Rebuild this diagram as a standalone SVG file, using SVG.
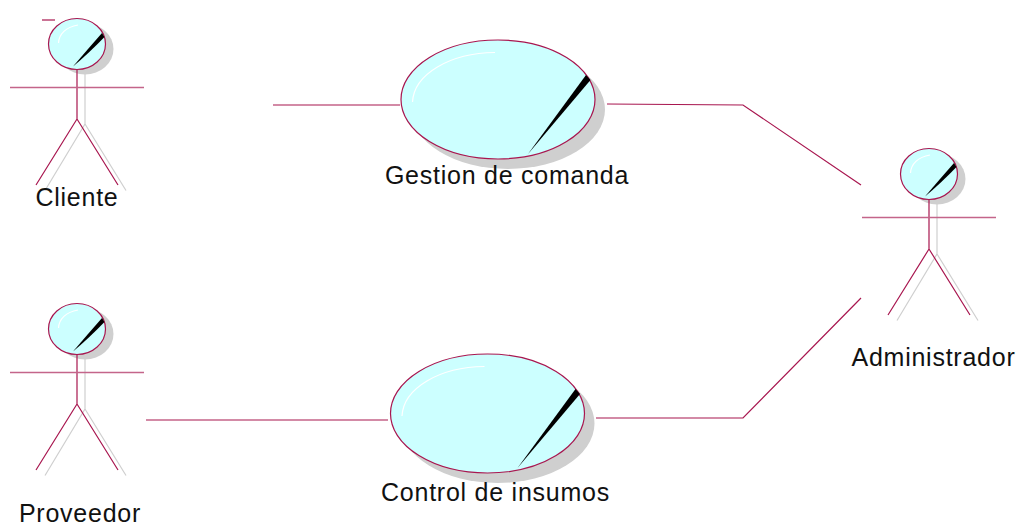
<svg xmlns="http://www.w3.org/2000/svg" width="1018" height="525" viewBox="0 0 1018 525">
<style>
.ln{fill:none;stroke:#a8164f;stroke-width:1.2}
.sh{fill:none;stroke:#cfcfcf;stroke-width:1.2}
.sf{fill:#cfcfcf}
.bd{fill:#ccffff;stroke:#a8164f;stroke-width:1.2}
.hl{fill:none;stroke:#fff;stroke-width:1.2}
.tx{font-family:"Liberation Sans",Arial,sans-serif;font-size:25px;letter-spacing:.75px;fill:#111;text-anchor:middle}
</style>
<defs>
<g id="actor">
<ellipse class="sf" cx="85" cy="49" rx="28.500" ry="25.500"/>
<path class="sh" d="M85 70V124M85 124L45 190.500M85 124L126 190.500"/>
<ellipse class="bd" cx="77" cy="44" rx="28.500" ry="25.500"/>
<path class="hl" d="M58.500 43C59 34 66 27 78 25"/>
<path d="M102 33L104.500 37Q88 54 73 66.500Q87 50 102 33Z" fill="#000"/>
<path class="ln" d="M77 69.500V119M77 119L36 185M77 119L118 185"/>
<path d="M10 87.500H144" fill="none" stroke="#c4658a" stroke-width="1.600"/>
</g>
<g id="usecase">
<ellipse class="sf" cx="508" cy="109.500" rx="97" ry="59.500"/>
<ellipse class="bd" cx="498" cy="99.500" rx="97" ry="59.500"/>
<path class="hl" d="M412.500 102C414 74 450 53 495 52.500"/>
<path d="M586 75L590.500 80L528 154Z" fill="#000"/>
</g>
</defs>
<g id="connectors">
<path class="ln" d="M273 105H400M607 104L743 105L861 185M146 420H388M596 418H743L861 298"/>
</g>
<g id="actor-cliente"><use href="#actor"/><path class="ln" d="M42 20H55"/><text class="tx" x="77" y="206">Cliente</text></g>
<g id="actor-proveedor"><use href="#actor" y="285"/><text class="tx" x="80" y="522">Proveedor</text></g>
<g id="actor-administrador"><use href="#actor" x="852" y="130"/><text class="tx" x="933.500" y="366">Administrador</text></g>
<g id="uc-gestion"><use href="#usecase"/><text class="tx" x="507" y="184">Gestion de comanda</text></g>
<g id="uc-control"><use href="#usecase" x="-10.500" y="314"/><text class="tx" x="495.500" y="501">Control de insumos</text></g>
</svg>
